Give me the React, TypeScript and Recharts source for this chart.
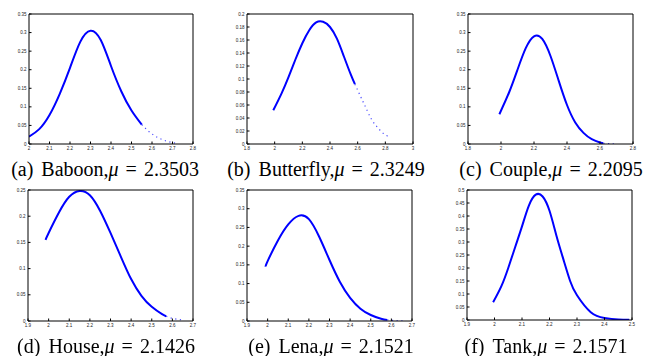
import { LineChart, Line, XAxis, YAxis } from 'recharts'

// (a) Baboon
const baboonX = [2.0, 2.05, 2.1, 2.15, 2.2, 2.25, 2.3, 2.35, 2.4, 2.45, 2.5, 2.55]
const baboonY = [0.02, 0.04, 0.078, 0.135, 0.205, 0.275, 0.305, 0.28, 0.21, 0.142, 0.09, 0.052]
const baboonTailX = [2.55, 2.6, 2.65, 2.7, 2.72]
const baboonTailY = [0.052, 0.027, 0.012, 0.004, 0.002]

// (b) Butterfly
const butterflyX = [1.99, 2.05, 2.1, 2.15, 2.2, 2.25, 2.3, 2.35, 2.4, 2.45, 2.5, 2.55, 2.58]
const butterflyY = [0.052, 0.078, 0.103, 0.13, 0.155, 0.175, 0.187, 0.188, 0.18, 0.162, 0.135, 0.107, 0.092]
const butterflyTailX = [2.58, 2.65, 2.7, 2.75, 2.8, 2.83]
const butterflyTailY = [0.092, 0.06, 0.038, 0.024, 0.014, 0.011]

// (c) Couple
const coupleX = [1.99, 2.05, 2.1, 2.15, 2.2, 2.25, 2.3, 2.35, 2.4, 2.45, 2.5, 2.55, 2.6, 2.62]
const coupleY = [0.08, 0.14, 0.2, 0.258, 0.29, 0.283, 0.237, 0.17, 0.105, 0.058, 0.03, 0.013, 0.004, 0.002]
const coupleTailX = [2.62, 2.66, 2.7]
const coupleTailY = [0.002, 0.0008, 0.0002]

// (d) House
const houseX = [1.985, 2.0, 2.05, 2.1, 2.15, 2.2, 2.25, 2.3, 2.35, 2.4, 2.45, 2.5, 2.55, 2.57]
const houseY = [0.155, 0.168, 0.207, 0.237, 0.248, 0.24, 0.21, 0.168, 0.123, 0.08, 0.048, 0.027, 0.013, 0.009]
const houseTailX = [2.57, 2.6, 2.63, 2.65]
const houseTailY = [0.009, 0.005, 0.003, 0.002]

// (e) Lena
const lenaX = [1.99, 2.0, 2.05, 2.1, 2.15, 2.2, 2.25, 2.3, 2.35, 2.4, 2.45, 2.5, 2.55, 2.58]
const lenaY = [0.145, 0.16, 0.215, 0.258, 0.281, 0.272, 0.225, 0.163, 0.105, 0.062, 0.033, 0.016, 0.006, 0.003]
const lenaTailX = [2.58, 2.62, 2.66]
const lenaTailY = [0.003, 0.001, 0.0004]

// (f) Tank
const tankX = [1.995, 2.025, 2.05, 2.075, 2.1, 2.125, 2.15, 2.175, 2.2, 2.225, 2.25, 2.275, 2.3, 2.35, 2.4, 2.45, 2.49]
const tankY = [0.068, 0.13, 0.2, 0.28, 0.36, 0.44, 0.482, 0.475, 0.42, 0.325, 0.235, 0.15, 0.095, 0.03, 0.008, 0.002, 0.0005]

// tick labels
const ticksX1 = [2, 2.1, 2.2, 2.3, 2.4, 2.5, 2.6, 2.7, 2.8]
const ticksX2 = [1.8, 2, 2.2, 2.4, 2.6, 2.8, 3]
const ticksX3 = [1.8, 2, 2.2, 2.4, 2.6, 2.8]
const ticksX4 = [1.9, 2, 2.1, 2.2, 2.3, 2.4, 2.5, 2.6, 2.7]
const ticksX6 = [1.9, 2, 2.1, 2.2, 2.3, 2.4, 2.5]
const ticksY035 = [0, 0.05, 0.1, 0.15, 0.2, 0.25, 0.3, 0.35]
const ticksY02 = [0, 0.02, 0.04, 0.06, 0.08, 0.1, 0.12, 0.14, 0.16, 0.18, 0.2]
const ticksY025 = [0, 0.05, 0.1, 0.15, 0.2, 0.25]
const ticksY05 = [0, 0.05, 0.1, 0.15, 0.2, 0.25, 0.3, 0.35, 0.4, 0.45, 0.5]

const zip = (xs: number[], ys: number[]) => xs.map((x, i) => ({ x, y: ys[i] }))

const BLUE = '#0000ff'
const tickStyle = { fontSize: 4.5, fill: '#222', fontFamily: 'Liberation Sans' }

interface PanelProps {
    box: [number, number, number, number]
    main: { x: number; y: number }[]
    tail?: { x: number; y: number }[]
    xTicks: number[]
    yTicks: number[]
    caption: string
    name: string
    mu: string
    capX: number
    capY: number
}

function Panel({ box, main, tail, xTicks, yTicks, caption, name, mu, capX, capY }: PanelProps) {
    const [bx, by, bw, bh] = box
    const yw = 26
    const xDom: [number, number] = [xTicks[0], xTicks[xTicks.length - 1]]
    const yDom: [number, number] = [yTicks[0], yTicks[yTicks.length - 1]]
    return (
        <>
            <div style={{ position: 'absolute', left: bx - yw, top: by - 6 }}>
                <LineChart
                    width={bw + yw + 8}
                    height={bh + 6 + 12}
                    margin={{ top: 5, right: 7, bottom: 0, left: 0 }}
                >
                    <XAxis
                        type="number"
                        dataKey="x"
                        domain={xDom}
                        ticks={xTicks}
                        height={12}
                        tick={tickStyle}
                        tickSize={-2.5}
                        tickMargin={5}
                        stroke="#000"
                        allowDataOverflow
                    />
                    <XAxis
                        xAxisId="top"
                        orientation="top"
                        type="number"
                        dataKey="x"
                        domain={xDom}
                        ticks={xTicks}
                        height={1}
                        tick={false}
                        tickSize={-2.5}
                        stroke="#000"
                        allowDataOverflow
                    />
                    <YAxis
                        type="number"
                        domain={yDom}
                        ticks={yTicks}
                        width={yw}
                        tick={tickStyle}
                        tickSize={-2.5}
                        tickMargin={5}
                        stroke="#000"
                        allowDataOverflow
                    />
                    <YAxis
                        yAxisId="right"
                        orientation="right"
                        type="number"
                        domain={yDom}
                        ticks={yTicks}
                        width={1}
                        tick={false}
                        tickSize={-2.5}
                        stroke="#000"
                        allowDataOverflow
                    />
                    {/* invisible copy so the top and right frame axes are drawn */}
                    <Line
                        data={main}
                        dataKey="y"
                        xAxisId="top"
                        yAxisId="right"
                        stroke="none"
                        dot={false}
                        activeDot={false}
                        isAnimationActive={false}
                    />
                    <Line
                        data={main}
                        dataKey="y"
                        type="natural"
                        stroke={BLUE}
                        strokeWidth={2}
                        dot={false}
                        isAnimationActive={false}
                    />
                    {tail && (
                        <Line
                            data={tail}
                            dataKey="y"
                            type="monotone"
                            stroke="#4a4aff"
                            strokeWidth={1.2}
                            strokeDasharray="1.2 3.5"
                            dot={false}
                            isAnimationActive={false}
                        />
                    )}
                </LineChart>
            </div>
            <div
                style={{
                    position: 'absolute',
                    left: capX,
                    top: capY,
                    transform: 'translate(-50%, -50%)',
                    whiteSpace: 'nowrap',
                    fontFamily: 'Liberation Serif',
                    fontSize: 20,
                    color: '#000',
                }}
            >
                {caption}
                <span style={{ marginLeft: 8 }}>{name},</span>
                <i>μ</i>
                <span style={{ margin: '0 7px' }}>=</span>
                {mu}
            </div>
        </>
    )
}

export default function App() {
    return (
        <div style={{ position: 'fixed', left: 0, top: 0, width: 645, height: 356, background: '#fff' }}>
            <Panel box={[29, 14, 164, 130]} main={zip(baboonX, baboonY)} tail={zip(baboonTailX, baboonTailY)}
                xTicks={ticksX1} yTicks={ticksY035} caption="(a)" name="Baboon" mu="2.3503" capX={105} capY={169} />
            <Panel box={[247, 14, 166, 130]} main={zip(butterflyX, butterflyY)} tail={zip(butterflyTailX, butterflyTailY)}
                xTicks={ticksX2} yTicks={ticksY02} caption="(b)" name="Butterfly" mu="2.3249" capX={326} capY={169} />
            <Panel box={[468, 14, 165, 130]} main={zip(coupleX, coupleY)} tail={zip(coupleTailX, coupleTailY)}
                xTicks={ticksX3} yTicks={ticksY035} caption="(c)" name="Couple" mu="2.2095" capX={551} capY={169} />
            <Panel box={[28, 190, 165, 131]} main={zip(houseX, houseY)} tail={zip(houseTailX, houseTailY)}
                xTicks={ticksX4} yTicks={ticksY025} caption="(d)" name="House" mu="2.1426" capX={106} capY={346} />
            <Panel box={[247, 190, 165, 131]} main={zip(lenaX, lenaY)} tail={zip(lenaTailX, lenaTailY)}
                xTicks={ticksX4} yTicks={ticksY035} caption="(e)" name="Lena" mu="2.1521" capX={331} capY={346} />
            <Panel box={[467, 190, 165, 130]} main={zip(tankX, tankY)}
                xTicks={ticksX6} yTicks={ticksY05} caption="(f)" name="Tank" mu="2.1571" capX={546} capY={346} />
        </div>
    )
}
